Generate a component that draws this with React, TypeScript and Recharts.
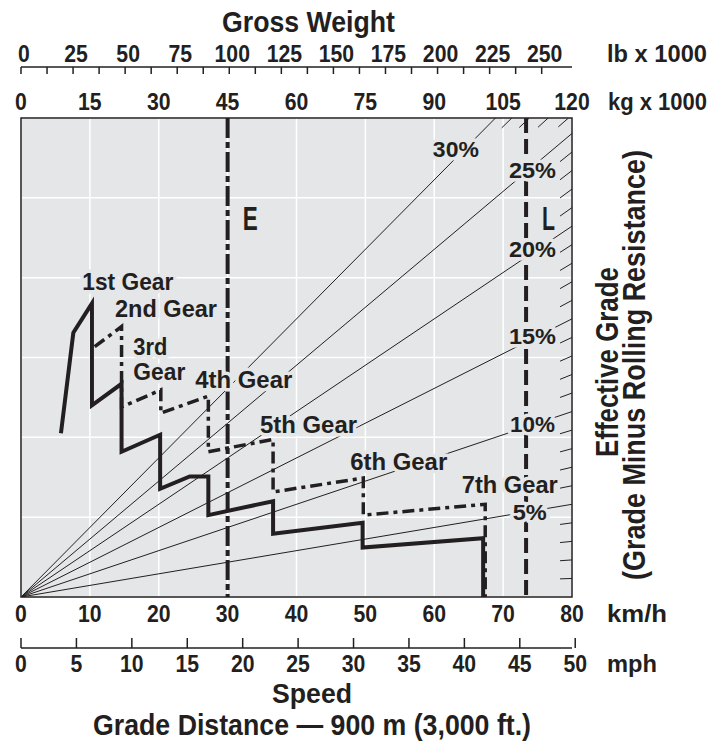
import React from 'react'
import {
  ComposedChart,
  Line,
  XAxis,
  YAxis,
  CartesianGrid,
  ReferenceLine,
  ReferenceArea,
  ReferenceDot,
  Customized,
} from 'recharts'

// speed axes
const kmhTicks = [0, 10, 20, 30, 40, 50, 60, 70, 80]
const mphTicks = [0, 5, 10, 15, 20, 25, 30, 35, 40, 45, 50]
const kmhMax = 80
const mphMax = 80 / 1.609344

// gross weight axes
const kgTicks = [0, 15, 30, 45, 60, 75, 90, 105, 120]
const lbTicks = [0, 12.5, 25, 37.5, 50, 62.5, 75, 87.5, 100, 112.5, 125, 137.5, 150, 162.5, 175, 187.5, 200, 212.5, 225, 237.5, 250]
const kgMax = 120
const lbMax = 120 / 0.45359237

// rimpull (kg x 1000), hidden axis
const rimpullMax = 31
const rimpullGrid = [0, 1, 2, 3, 4, 5, 6].map((i) => (i * rimpullMax) / 6)

// effective grade lines (%)
const gradeLines = [5, 10, 15, 20, 25, 30]
const gradeMinor = [1, 2, 3, 4, 6, 7, 8, 9, 11, 12, 13, 14, 16, 17, 18, 19, 21, 22, 23, 24, 26, 27, 28, 29]

// empty / loaded gross weight (kg x 1000)
const emptyWeight = 45
const loadedWeight = 110

// retarding curves: speed km/h -> rimpull kg x 1000
const solidSpeed = [5.8, 7.6, 10.3, 10.3, 14.6, 14.6, 20.2, 20.2, 24.5, 27.2, 27.2, 36.6, 36.6, 49.6, 49.6, 67.1, 67.1]
const solidForce = [10.6, 17.1, 19.0, 12.4, 13.8, 9.4, 10.5, 7.0, 7.8, 7.8, 5.3, 6.2, 4.1, 4.8, 3.2, 3.8, 0]
const dashSpeed = [10.7, 14.6, 14.6, 20.3, 20.3, 27.2, 27.2, 36.6, 36.6, 49.7, 49.7, 67.4, 67.4]
const dashForce = [16.2, 17.5, 12.3, 13.4, 11.9, 13.0, 9.4, 10.2, 6.8, 7.7, 5.3, 6.0, 0]

const solidData = solidSpeed.map((v, i) => ({ v, rp: solidForce[i] }))
const dashData = dashSpeed.map((v, i) => ({ v, rp: dashForce[i] }))

const FONT = "'Liberation Sans', Arial, Helvetica, sans-serif"
const INK = '#231f20'
const BG = '#e5e6e7'

// annotation layout (speed km/h, rimpull, width px)
const gearLabels = [
  { t: '1st Gear', v: 8.9, f: 19.9, w: 91 },
  { t: '2nd Gear', v: 13.65, f: 18.1, w: 102 },
  { t: '3rd', v: 16.3, f: 15.65, w: 34 },
  { t: 'Gear', v: 16.3, f: 14.05, w: 52 },
  { t: '4th Gear', v: 25.3, f: 13.5, w: 97 },
  { t: '5th Gear', v: 34.7, f: 10.6, w: 97 },
  { t: '6th Gear', v: 47.8, f: 8.2, w: 97 },
  { t: '7th Gear', v: 64.0, f: 6.7, w: 96 },
]
const pctLabels = [
  { t: '30%', v: 59.8, f: 28.5, w: 46 },
  { t: '25%', v: 70.85, f: 27.1, w: 47 },
  { t: '20%', v: 70.85, f: 22.0, w: 47 },
  { t: '15%', v: 70.85, f: 16.4, w: 47 },
  { t: '10%', v: 71.0, f: 10.7, w: 45 },
  { t: '5%', v: 71.4, f: 5.0, w: 34 },
]
const weightLabels = [
  { t: 'E', v: 32.2, f: 23.75, w: 15 },
  { t: 'L', v: 75.65, f: 23.75, w: 13 },
]

const txt = {
  fontFamily: FONT,
  fontWeight: 700,
  fill: INK,
  lengthAdjust: 'spacingAndGlyphs' as const,
}

const digitW = 11.8

function KgTick(p: any) {
  const s = String(p.payload.value)
  return (
    <text x={p.x} y={p.y - 8} textAnchor="middle" fontSize={24} textLength={s.length * digitW} {...txt}>
      {s}
    </text>
  )
}

function LbTick(p: any) {
  const val = p.payload.value
  const s = String(val)
  return (
    <g>
      <line x1={p.x} x2={p.x} y1={p.y} y2={p.y + 7} stroke={INK} strokeWidth={1.5} />
      {val % 25 === 0 && (
        <text x={p.x + 3} y={p.y - 5} textAnchor="middle" fontSize={24} textLength={s.length * digitW} {...txt}>
          {s}
        </text>
      )}
    </g>
  )
}

function KmhTick(p: any) {
  const s = String(p.payload.value)
  return (
    <text x={p.x} y={p.y + 25} textAnchor="middle" fontSize={24} textLength={s.length * digitW} {...txt}>
      {s}
    </text>
  )
}

function MphTick(p: any) {
  const s = String(p.payload.value)
  return (
    <g>
      <line x1={p.x} x2={p.x} y1={p.y} y2={p.y - 10} stroke={INK} strokeWidth={1.5} />
      <text x={p.x} y={p.y + 24} textAnchor="middle" fontSize={24} textLength={s.length * digitW} {...txt}>
        {s}
      </text>
    </g>
  )
}

function Titles() {
  return (
    <g>
      <text x={222} y={32} fontSize={30} textLength={173} {...txt}>Gross Weight</text>
      <text x={607} y={62} fontSize={24} textLength={100} {...txt}>lb x 1000</text>
      <text x={608} y={110} fontSize={24} textLength={99} {...txt}>kg x 1000</text>
      <text x={607} y={622} fontSize={24} textLength={60} {...txt}>km/h</text>
      <text x={607} y={672} fontSize={24} textLength={50} {...txt}>mph</text>
      <text x={272} y={703} fontSize={28} textLength={80} {...txt}>Speed</text>
      <text x={93} y={735} fontSize={29} textLength={438} {...txt}>Grade Distance — 900 m (3,000 ft.)</text>
      <text x={618} y={457} transform="rotate(-90 618 457)" fontSize={31} textLength={190} {...txt}>
        Effective Grade
      </text>
      <text x={645} y={580} transform="rotate(-90 645 580)" fontSize={31} textLength={430} {...txt}>
        (Grade Minus Rolling Resistance)
      </text>
    </g>
  )
}

function labelShape(t: string, w: number, size: number) {
  return (p: any) => (
    <text
      x={p.cx}
      y={p.cy}
      fontSize={size}
      textLength={w}
      stroke={BG}
      strokeWidth={7}
      strokeLinejoin="round"
      paintOrder="stroke"
      {...txt}
    >
      {t}
    </text>
  )
}

// straight grade line through origin, ending where it leaves the plot
function gradeSegment(g: number, from?: number) {
  const wEnd = Math.min(kgMax, rimpullMax / (g / 100))
  const wStart = from === undefined ? 0 : wEnd - from
  return [
    { w: wStart, rp: (wStart * g) / 100 },
    { w: wEnd, rp: (wEnd * g) / 100 },
  ]
}

export default function App() {
  return (
    <div style={{ position: 'absolute', left: 0, top: 0, background: '#fff' }}>
      <ComposedChart width={715} height={742} margin={{ top: 27, right: 143, bottom: 54, left: 21 }}>
        <XAxis
          xAxisId="kmh"
          dataKey="v"
          type="number"
          orientation="bottom"
          domain={[0, kmhMax]}
          allowDataOverflow
          ticks={kmhTicks}
          interval={0}
          height={51}
          axisLine={false}
          tickLine={false}
          tickSize={0}
          tickMargin={0}
          tick={<KmhTick />}
        />
        <XAxis
          xAxisId="mph"
          dataKey="mph"
          type="number"
          orientation="bottom"
          domain={[0, mphMax]}
          allowDataOverflow
          ticks={mphTicks}
          interval={0}
          height={40}
          axisLine={{ stroke: INK, strokeWidth: 1.5 }}
          tickLine={false}
          tickSize={0}
          tickMargin={0}
          tick={<MphTick />}
        />
        <XAxis
          xAxisId="kg"
          dataKey="w"
          type="number"
          orientation="top"
          domain={[0, kgMax]}
          allowDataOverflow
          ticks={kgTicks}
          interval={0}
          height={51}
          axisLine={false}
          tickLine={false}
          tickSize={0}
          tickMargin={0}
          tick={<KgTick />}
        />
        <XAxis
          xAxisId="lb"
          dataKey="lb"
          type="number"
          orientation="top"
          domain={[0, lbMax]}
          allowDataOverflow
          ticks={lbTicks}
          interval={0}
          height={40}
          axisLine={{ stroke: INK, strokeWidth: 1.5 }}
          tickLine={false}
          tickSize={0}
          tickMargin={0}
          tick={<LbTick />}
        />
        <YAxis yAxisId="rp" type="number" hide domain={[0, rimpullMax]} allowDataOverflow ticks={rimpullGrid} />

        <CartesianGrid xAxisId="kmh" yAxisId="rp" fill={BG} fillOpacity={1} stroke="#ffffff" strokeWidth={1.5} />

        {/* invisible series so the secondary axes get a scale */}
        <Line data={[{ lb: 0, rp: 0 }, { lb: lbMax, rp: 0 }]} dataKey="rp" xAxisId="lb" yAxisId="rp" stroke="none" dot={false} isAnimationActive={false} />
        <Line data={[{ mph: 0, rp: 0 }, { mph: mphMax, rp: 0 }]} dataKey="rp" xAxisId="mph" yAxisId="rp" stroke="none" dot={false} isAnimationActive={false} />

        {gradeLines.map((g) => (
          <Line
            key={'g' + g}
            data={gradeSegment(g)}
            dataKey="rp"
            xAxisId="kg"
            yAxisId="rp"
            type="linear"
            stroke={INK}
            strokeWidth={1}
            dot={false}
            isAnimationActive={false}
          />
        ))}
        {gradeMinor.map((g) => (
          <Line
            key={'m' + g}
            data={gradeSegment(g, g > 25 ? 2.2 : 2.6)}
            dataKey="rp"
            xAxisId="kg"
            yAxisId="rp"
            type="linear"
            stroke={INK}
            strokeWidth={1}
            dot={false}
            isAnimationActive={false}
          />
        ))}

        <ReferenceLine xAxisId="kg" yAxisId="rp" x={emptyWeight} stroke={INK} strokeWidth={4} strokeDasharray="20 4 6 4" />
        <ReferenceLine xAxisId="kg" yAxisId="rp" x={loadedWeight} stroke={INK} strokeWidth={4} strokeDasharray="15 6" />

        <Line
          data={dashData}
          dataKey="rp"
          xAxisId="kmh"
          yAxisId="rp"
          type="linear"
          stroke={INK}
          strokeWidth={3.5}
          strokeDasharray="12 5 4 5"
          dot={false}
          isAnimationActive={false}
        />
        <Line
          data={solidData}
          dataKey="rp"
          xAxisId="kmh"
          yAxisId="rp"
          type="linear"
          stroke={INK}
          strokeWidth={4}
          dot={false}
          isAnimationActive={false}
        />

        <ReferenceArea
          xAxisId="kmh"
          yAxisId="rp"
          x1={0}
          x2={kmhMax}
          y1={0}
          y2={rimpullMax}
          fill="none"
          stroke={INK}
          strokeWidth={1.5}
          ifOverflow="visible"
        />

        {gearLabels.map((l) => (
          <ReferenceDot key={l.t + l.v} xAxisId="kmh" yAxisId="rp" x={l.v} y={l.f} r={0} ifOverflow="visible" shape={labelShape(l.t, l.w, 24)} />
        ))}
        {pctLabels.map((l) => (
          <ReferenceDot key={l.t} xAxisId="kmh" yAxisId="rp" x={l.v} y={l.f} r={0} ifOverflow="visible" shape={labelShape(l.t, l.w, 22)} />
        ))}
        {weightLabels.map((l) => (
          <ReferenceDot key={l.t} xAxisId="kmh" yAxisId="rp" x={l.v} y={l.f} r={0} ifOverflow="visible" shape={labelShape(l.t, l.w, 34)} />
        ))}

        <Customized component={<Titles />} />
      </ComposedChart>
    </div>
  )
}
